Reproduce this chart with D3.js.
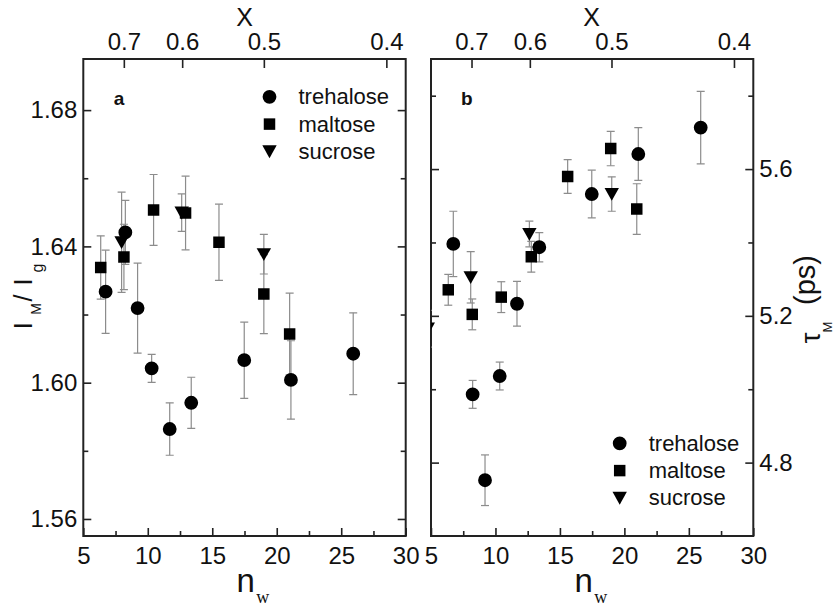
<!DOCTYPE html>
<html>
<head>
<meta charset="utf-8">
<script src="https://cdn.jsdelivr.net/npm/d3@7"></script>
<style>
  html, body { margin: 0; padding: 0; background: #fff; }
  svg { display: block; }
  text { font-family: "Liberation Sans", Arial, sans-serif; fill: #111; }
</style>
</head>
<body>
<svg id="chart" width="835" height="610"></svg>
<script>
// ---------- data ----------
const seriesNames = ["trehalose", "maltose", "sucrose"];
const nwTicks = [5, 10, 15, 20, 25, 30];
const nwMinor = [7.5, 12.5, 17.5, 22.5, 27.5];
const xTopTicks = [0.7, 0.6, 0.5, 0.4];

// panel a : I_M / I_g
const yTicksA = [1.56, 1.60, 1.64, 1.68];
const yMinorA = [1.58, 1.62, 1.66];
const trehA_n = [6.73, 8.26, 9.21, 10.3, 11.7, 13.37, 17.48, 21.1, 25.93];
const trehA_v = [1.6267, 1.6441, 1.6219, 1.6042, 1.5864, 1.5941, 1.6066, 1.6008, 1.6085];
const trehA_e = [0.0122, 0.0094, 0.0132, 0.0041, 0.0077, 0.0075, 0.0112, 0.0115, 0.0120];
const maltA_n = [6.35, 8.15, 10.45, 12.93, 15.52, 19.0, 21.0];
const maltA_v = [1.6338, 1.6369, 1.6507, 1.6498, 1.6412, 1.6260, 1.6143];
const maltA_e = [0.0093, 0.0096, 0.0104, 0.0108, 0.0112, 0.0116, 0.0120];
const sucrA_n = [7.97, 12.63, 19.0];
const sucrA_v = [1.6412, 1.6499, 1.6377];
const sucrA_e = [0.0147, 0.0055, 0.0058];

// panel b : tau_M (ps)
const yTicksB = [4.8, 5.2, 5.6];
const yMinorB = [5.0, 5.4, 5.8];
const trehB_n = [6.73, 8.23, 9.19, 10.33, 11.67, 13.4, 17.47, 21.08, 25.92];
const trehB_v = [5.396, 4.986, 4.752, 5.036, 5.233, 5.387, 5.532, 5.641, 5.713];
const trehB_e = [0.089, 0.038, 0.069, 0.038, 0.061, 0.040, 0.065, 0.072, 0.099];
const maltB_n = [6.34, 8.2, 10.45, 12.78, 15.6, 18.94, 20.96];
const maltB_v = [5.271, 5.204, 5.251, 5.361, 5.580, 5.656, 5.491];
const maltB_e = [0.042, 0.042, 0.042, 0.042, 0.046, 0.047, 0.069];
const sucrB_n = [4.75, 8.08, 12.63, 19.02];
const sucrB_v = [5.165, 5.305, 5.423, 5.532];
const sucrB_e = [0.050, 0.070, 0.035, 0.047];

// ---------- helpers ----------
const FONT = '"Liberation Sans", Arial, sans-serif';
const svg = d3.select("#chart");
const toNw = x => 19 * (1 - x) / x;   // sugar mass fraction -> water molecules per sugar
const zip = (n, v, e) => n.map((d, i) => ({n: d, v: v[i], e: e[i]}));

const triDown = {
  draw(ctx, size) {
    const w = Math.sqrt(size) * 0.56, h = Math.sqrt(size) * 0.5;
    ctx.moveTo(-w, -h * 0.95); ctx.lineTo(w, -h * 0.95); ctx.lineTo(0, h * 1.05); ctx.closePath();
  }
};
const symbolPaths = {
  trehalose: d3.symbol().type(d3.symbolCircle).size(150)(),
  maltose: d3.symbol().type(d3.symbolSquare).size(132)(),
  sucrose: d3.symbol().type(triDown).size(165)()
};

function drawPanel(cfg) {
  const x = d3.scaleLinear().domain([5, 30]).range(cfg.xRange);
  const y = d3.scaleLinear().domain(cfg.yDomain).range([536, 59]);
  const [x0, x1] = cfg.xRange;
  const g = svg.append("g");

  const clipId = "clip-" + cfg.letter;
  g.append("clipPath").attr("id", clipId)
    .append("rect").attr("x", x0).attr("y", 59).attr("width", x1 - x0).attr("height", 536 - 59);

  // axes (ticks inward)
  const styleAxis = sel => {
    sel.select(".domain").remove();
    sel.selectAll("line").attr("stroke", "#222").attr("stroke-width", 1.6);
    sel.selectAll("text").style("font-size", "24px").attr("fill", "#111").style("font-family", FONT);
  };
  g.append("g").attr("transform", `translate(0,536)`)
    .call(d3.axisBottom(x).tickValues(nwTicks).tickSize(-8).tickPadding(10.5).tickFormat(d3.format("d"))).call(styleAxis);
  g.append("g").attr("transform", `translate(0,536)`)
    .call(d3.axisBottom(x).tickValues(nwMinor).tickSize(-5).tickFormat("")).call(styleAxis);
  g.append("g").attr("transform", `translate(0,59)`)
    .call(d3.axisTop(x).tickValues(xTopTicks.map(toNw)).tickSize(-9).tickPadding(9)
      .tickFormat((d, i) => d3.format(".1f")(xTopTicks[i]))).call(styleAxis);

  const leftLabels = cfg.labelSide === "left";
  g.append("g").attr("transform", `translate(${x0},0)`)
    .call(d3.axisLeft(y).tickValues(cfg.yTicks).tickSize(-8).tickPadding(6)
      .tickFormat(leftLabels ? d3.format(cfg.fmt) : "")).call(styleAxis);
  g.append("g").attr("transform", `translate(${x0},0)`)
    .call(d3.axisLeft(y).tickValues(cfg.yMinor).tickSize(-5).tickFormat("")).call(styleAxis);
  g.append("g").attr("transform", `translate(${x1},0)`)
    .call(d3.axisRight(y).tickValues(cfg.yTicks).tickSize(-8).tickPadding(6)
      .tickFormat(!leftLabels ? d3.format(cfg.fmt) : "")).call(styleAxis);
  g.append("g").attr("transform", `translate(${x1},0)`)
    .call(d3.axisRight(y).tickValues(cfg.yMinor).tickSize(-5).tickFormat("")).call(styleAxis);

  // frame
  g.append("rect").attr("x", x0).attr("y", 59).attr("width", x1 - x0).attr("height", 536 - 59)
    .attr("fill", "none").attr("stroke", "#222").attr("stroke-width", 2);

  // data
  const plot = g.append("g").attr("clip-path", `url(#${clipId})`);
  const all = [];
  cfg.series.forEach(s => s.data.forEach(d => all.push({name: s.name, ...d})));
  const cap = 4;
  const eb = plot.append("g").attr("stroke", "#8c8c8c").attr("stroke-width", 1.2).attr("fill", "none");
  all.forEach(d => {
    const cx = x(d.n), yt = y(d.v + d.e), yb = y(d.v - d.e);
    eb.append("line").attr("x1", cx).attr("x2", cx).attr("y1", yt).attr("y2", yb);
    eb.append("line").attr("x1", cx - cap).attr("x2", cx + cap).attr("y1", yt).attr("y2", yt);
    eb.append("line").attr("x1", cx - cap).attr("x2", cx + cap).attr("y1", yb).attr("y2", yb);
  });
  plot.selectAll("path.mk").data(all).join("path").attr("class", "mk")
    .attr("d", d => symbolPaths[d.name])
    .attr("transform", d => `translate(${x(d.n)},${y(d.v)})`)
    .attr("fill", "#000");

  // legend
  seriesNames.forEach((name, i) => {
    const ly = cfg.legend[1] + i * 27.3;
    g.append("path").attr("d", symbolPaths[name])
      .attr("transform", `translate(${cfg.legend[0]},${ly})`).attr("fill", "#000");
    g.append("text").attr("x", cfg.legend[0] + 29).attr("y", ly + 7.5)
      .style("font-size", "22px").style("font-family", FONT).text(name);
  });

  // panel letter
  g.append("text").attr("x", cfg.letterPos[0]).attr("y", cfg.letterPos[1]).attr("text-anchor", "middle")
    .style("font-size", "19px").style("font-weight", "bold").style("font-family", FONT).text(cfg.letter);

  // top title X
  g.append("text").attr("x", (x0 + x1) / 2 + cfg.xTitleOff).attr("y", 26).attr("text-anchor", "middle")
    .style("font-size", "25px").style("font-family", FONT).text("X");

  // bottom title n_w
  const nx = x(cfg.nwCenter);
  g.append("text").attr("x", nx).attr("y", 591.5).attr("text-anchor", "middle")
    .style("font-size", "33px").style("font-family", FONT).text("n");
  g.append("text").attr("x", nx + 17).attr("y", 603).attr("text-anchor", "middle")
    .style("font-size", "18px").style("font-family", '"Liberation Serif", "Times New Roman", serif').text("w");
}

drawPanel({
  letter: "a", letterPos: [119, 104.5], xRange: [83.3, 405.7], yDomain: [1.555, 1.695],
  yTicks: yTicksA, yMinor: yMinorA, fmt: ".2f", labelSide: "left",
  legend: [269.5, 96.8], xTitleOff: 0, nwCenter: 17.6,
  series: [
    {name: "trehalose", data: zip(trehA_n, trehA_v, trehA_e)},
    {name: "maltose", data: zip(maltA_n, maltA_v, maltA_e)},
    {name: "sucrose", data: zip(sucrA_n, sucrA_v, sucrA_e)}
  ]
});
drawPanel({
  letter: "b", letterPos: [466.7, 104.5], xRange: [431, 753.3], yDomain: [4.6, 5.9],
  yTicks: yTicksB, yMinor: yMinorB, fmt: ".1f", labelSide: "right",
  legend: [619.7, 443.3], xTitleOff: -0.5, nwCenter: 16.85,
  series: [
    {name: "trehalose", data: zip(trehB_n, trehB_v, trehB_e)},
    {name: "maltose", data: zip(maltB_n, maltB_v, maltB_e)},
    {name: "sucrose", data: zip(sucrB_n, sucrB_v, sucrB_e)}
  ]
});

// y-axis titles (rotated)
const ta = svg.append("text").attr("transform", "translate(32,298) rotate(-90)").style("font-family", FONT);
ta.append("tspan").attr("x", -27.7).attr("y", 0).attr("text-anchor", "middle").style("font-size", "25px").text("I");
ta.append("tspan").attr("x", -11).attr("y", 8.7).attr("text-anchor", "middle").style("font-size", "14px").text("M");
ta.append("tspan").attr("x", 0).attr("y", 0).attr("text-anchor", "middle").style("font-size", "25px").text("/");
ta.append("tspan").attr("x", 16).attr("y", 0).attr("text-anchor", "middle").style("font-size", "25px").text("I");
ta.append("tspan").attr("x", 30).attr("y", 11).attr("text-anchor", "middle").style("font-size", "16px").text("g");

const tb = svg.append("text").attr("transform", "translate(815,298) rotate(-90)").style("font-family", FONT);
tb.append("tspan").attr("x", -40).attr("y", 5).attr("text-anchor", "middle").style("font-size", "28px").text("τ");
tb.append("tspan").attr("x", -29).attr("y", 17).attr("text-anchor", "middle").style("font-size", "13px").text("M");
tb.append("tspan").attr("x", 18).attr("y", 0).attr("text-anchor", "middle").style("font-size", "29px").text("(ps)");
</script>
</body>
</html>
